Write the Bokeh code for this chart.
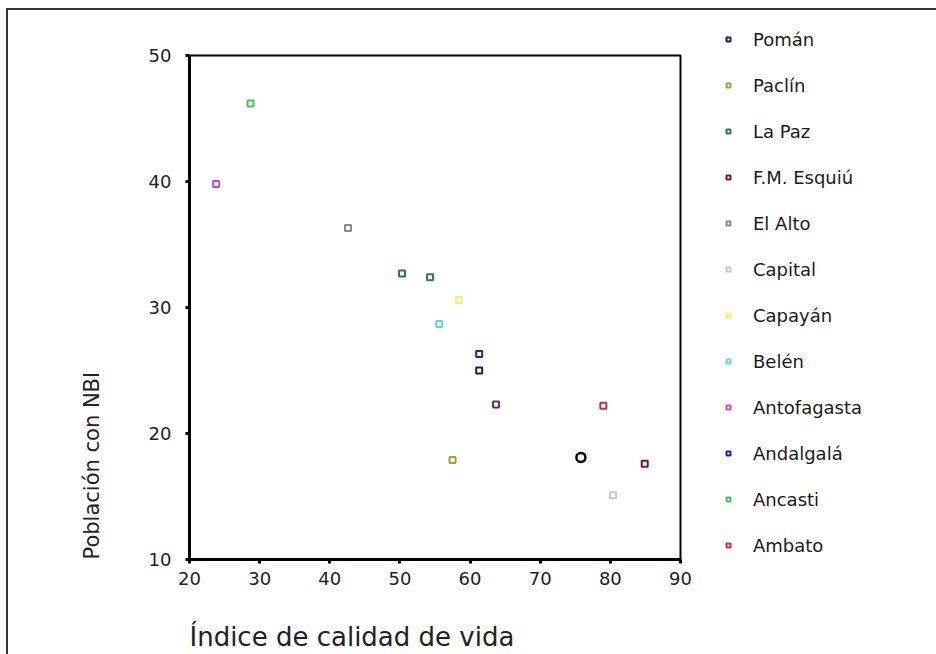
from bokeh.plotting import figure
from bokeh.models import Range1d, FixedTicker, Legend, Title
from bokeh.embed import file_html
from bokeh.resources import INLINE

# ---- data ----
departments = ["Pomán", "Paclín", "La Paz", "F.M. Esquiú", "El Alto", "Capital",
               "Capayán", "Belén", "Antofagasta", "Andalgalá", "Ancasti", "Ambato"]
icv = [61.3, 57.5, 54.3, 84.9, 42.6, 80.4, 58.4, 55.6, 23.8, 61.3, 28.7, 79.0]
nbi = [25.0, 17.9, 32.4, 17.6, 36.3, 15.1, 30.6, 28.7, 39.8, 26.3, 46.2, 22.2]
dept_colors = ["#1e1a5c", "#a0a040", "#2f7a45", "#7a1430", "#8a8a8a", "#c8c8c8",
               "#f2f060", "#5fd8dc", "#c050c0", "#2323a0", "#44c060", "#c0304c"]

# points shown without a legend entry
extra_icv = [50.3, 63.7]
extra_nbi = [32.7, 22.3]
extra_colors = ["#2a7070", "#70305c"]

highlight_icv = [75.8]
highlight_nbi = [18.1]

x_ticks = [20, 30, 40, 50, 60, 70, 80, 90]
y_ticks = [10, 20, 30, 40, 50]

x_title = "Índice de calidad de vida"
y_title = "Población con NBI"

FONT = "DejaVu Sans"

p = figure(frame_width=491, frame_height=504,
           x_range=Range1d(20, 90), y_range=Range1d(10, 50),
           output_backend="svg", toolbar_location=None,
           min_border_left=189, min_border_right=254,
           min_border_top=55, min_border_bottom=95)

p.border_fill_color = None
p.background_fill_color = None
p.styles = {"box-shadow": "inset 6px 8px 0 0 #ffffff, inset 8px 10px 0 0 #333333"}

p.grid.visible = False
p.outline_line_color = "black"
p.outline_line_width = 2

for ax, ticks in ((p.xaxis, x_ticks), (p.yaxis, y_ticks)):
    ax.ticker = FixedTicker(ticks=ticks)
    ax.axis_line_color = "black"
    ax.axis_line_width = 3
    ax.major_tick_line_color = "black"
    ax.major_tick_line_width = 3
    ax.major_tick_out = 4
    ax.major_tick_in = 0
    ax.minor_tick_line_color = None
    ax.major_label_text_font = FONT
    ax.major_label_text_font_size = "18px"
    ax.major_label_text_color = "#222222"
p.xaxis.major_label_standoff = 8
p.yaxis.major_label_standoff = 14

# blank axis label only used as a spacer between tick labels and the title
p.xaxis.axis_label = " "
p.xaxis.axis_label_text_font_size = "24px"
p.xaxis.axis_label_standoff = 0

items = []
for name, xv, yv, c in zip(departments, icv, nbi, dept_colors):
    r = p.scatter([xv], [yv], marker="square", size=6, line_color=c, line_width=2,
                  fill_color="white")
    items.append((name, [r]))

for xv, yv, c in zip(extra_icv, extra_nbi, extra_colors):
    p.scatter([xv], [yv], marker="square", size=6, line_color=c, line_width=2,
              fill_color="white")

p.scatter(highlight_icv, highlight_nbi, marker="circle", size=9, line_color="black",
          line_width=2.5, fill_color=None)

lg = Legend(items=items, location=(43, 3))
lg.padding = 0
lg.margin = 0
lg.spacing = 24
lg.glyph_width = 10
lg.glyph_height = 22
lg.label_height = 22
lg.label_standoff = 20
lg.border_line_color = None
lg.background_fill_alpha = 0
lg.label_text_font = FONT
lg.label_text_font_size = "18px"
lg.label_text_color = "#1a1a1a"
p.add_layout(lg, "right")

xt = Title(text=x_title, align="left", text_font=FONT, text_font_size="26px",
           text_font_style="normal", text_color="#222222", standoff=4)
p.add_layout(xt, "below")
yt = Title(text=y_title, align="left", text_font=FONT, text_font_size="21px",
           text_font_style="normal", text_color="#222222", standoff=84)
p.add_layout(yt, "left")

open("out.html", "w").write(file_html(p, INLINE))
